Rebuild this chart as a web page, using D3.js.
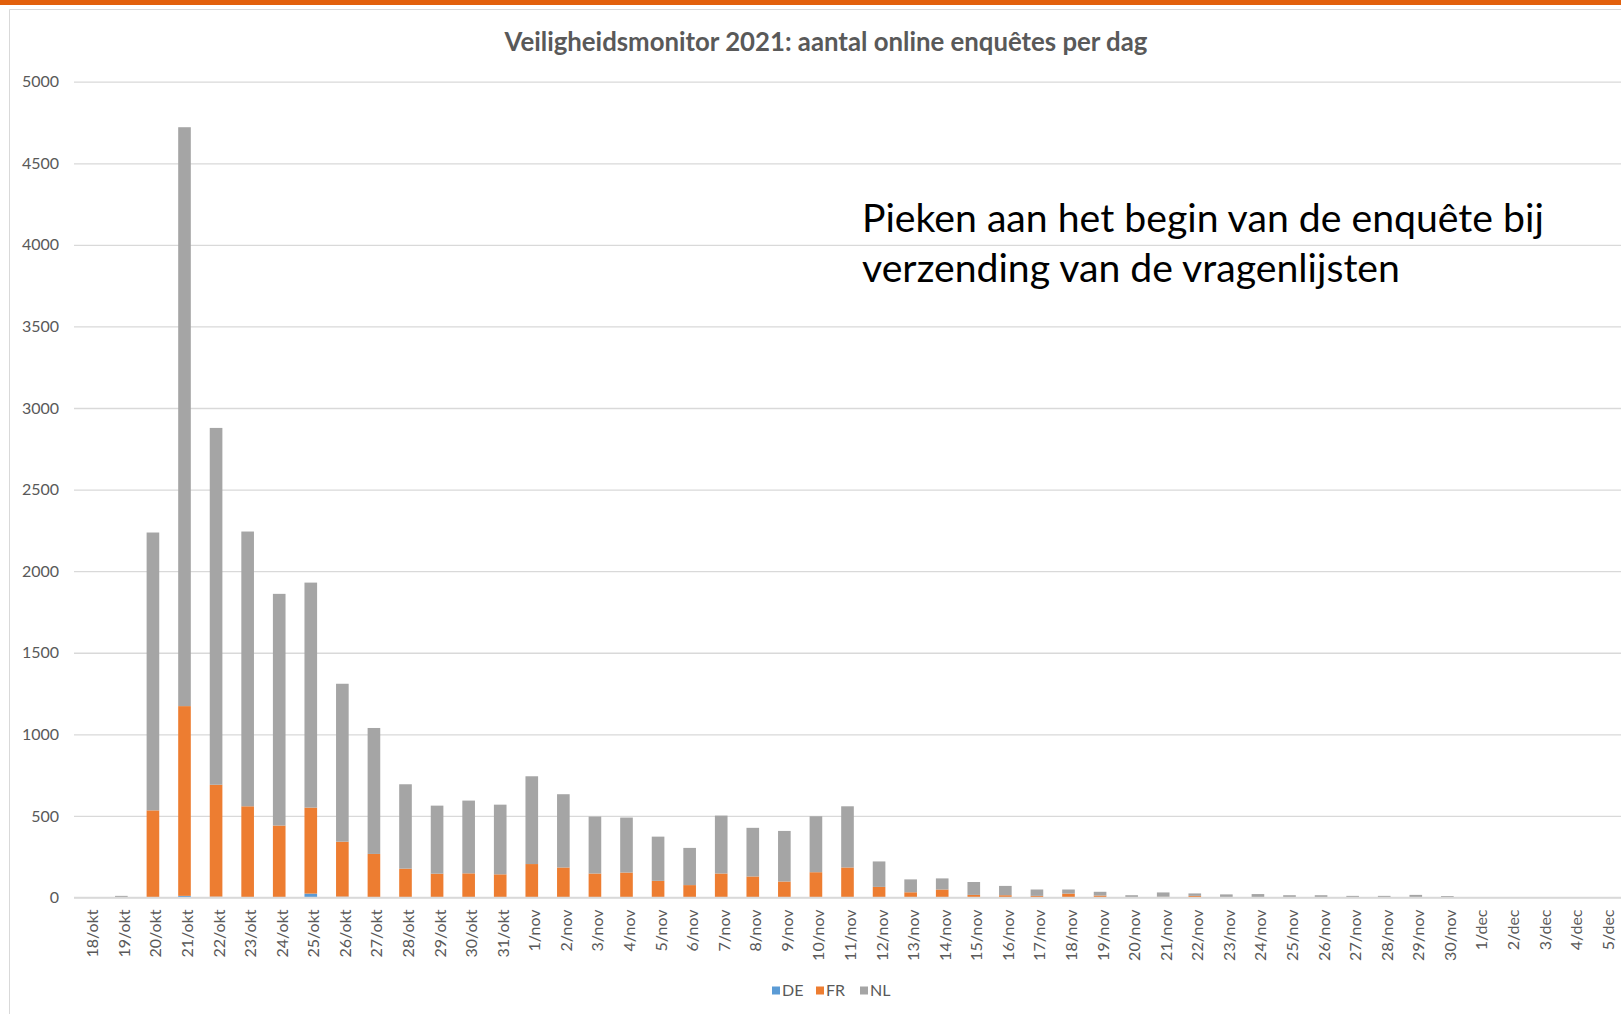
<!DOCTYPE html>
<html>
<head>
<meta charset="utf-8">
<script src="https://cdn.jsdelivr.net/npm/d3@7"></script>
<style>
  html, body { margin: 0; padding: 0; background: #ffffff; }
  svg { display: block; }
</style>
</head>
<body>
<svg id="chart" width="1621" height="1014"></svg>
<script>
// ---------- data ----------
const categories = [
  "18/okt","19/okt","20/okt","21/okt","22/okt","23/okt","24/okt","25/okt","26/okt","27/okt","28/okt","29/okt","30/okt","31/okt",
  "1/nov","2/nov","3/nov","4/nov","5/nov","6/nov","7/nov","8/nov","9/nov","10/nov","11/nov","12/nov","13/nov","14/nov","15/nov",
  "16/nov","17/nov","18/nov","19/nov","20/nov","21/nov","22/nov","23/nov","24/nov","25/nov","26/nov","27/nov","28/nov","29/nov","30/nov",
  "1/dec","2/dec","3/dec","4/dec","5/dec"
];
const deValues = [0,0,3,10,5,2,2,24,5,2,1,1,1,1,
  1,0,0,0,0,0,0,0,0,0,0,0,0,0,0,
  0,0,0,0,0,0,0,0,0,0,0,0,0,0,0,
  0,0,0,0,0];
const frValues = [0,0,531,1163,686,557,439,527,337,265,176,145,147,141,
  204,184,147,153,102,76,147,129,98,155,184,65,32,49,16,
  14,10,24,12,2,4,10,2,3,2,2,1,1,2,1,
  0,0,0,0,0];
const nlValues = [0,10,1703,3548,2187,1684,1420,1379,968,772,517,417,446,427,
  538,449,349,337,271,228,355,298,310,343,375,156,79,68,79,
  57,39,25,23,12,27,15,17,18,12,12,9,9,14,8,
  0,0,0,0,0];
const seriesNames = ["DE","FR","NL"];
const seriesColors = ["#5B9BD5","#ED7D31","#A5A5A5"];
const yTicks = [0,500,1000,1500,2000,2500,3000,3500,4000,4500,5000];
const titleText = "Veiligheidsmonitor 2021: aantal online enquêtes per dag";
const noteLines = ["Pieken aan het begin van de enquête bij", "verzending van de vragenlijsten"];

// ---------- layout ----------
const W = 1621, H = 1014;
const plot = { left: 74, right: 1621, top: 81.7, bottom: 897.5 };
const font = "Lato, 'Open Sans', sans-serif";
const textGray = "#595959";
const gridGray = "#D9D9D9";

const svg = d3.select("#chart");

// top orange band
svg.append("rect").attr("x", 0).attr("y", 0).attr("width", W).attr("height", 5).attr("fill", "#E2600C");

// chart area border (continues off the right/bottom edges)
svg.append("path")
  .attr("d", `M9.5,${H + 5} V9.5 H${W + 5}`)
  .attr("fill", "none").attr("stroke", gridGray).attr("stroke-width", 1);

// table for stacking
const table = categories.map((c, i) => ({ cat: c, DE: deValues[i], FR: frValues[i], NL: nlValues[i] }));
const stacked = d3.stack().keys(seriesNames)(table);

const x = d3.scaleBand().domain(categories).range([plot.left, plot.right]).paddingInner(0.6).paddingOuter(0.3);
const y = d3.scaleLinear().domain([0, 5000]).range([plot.bottom, plot.top]);
const color = d3.scaleOrdinal().domain(seriesNames).range(seriesColors);

// gridlines + y labels via axis
const yAxis = d3.axisLeft(y).tickValues(yTicks).tickSize(-(plot.right - plot.left)).tickPadding(15).tickFormat(d3.format("d"));
const gy = svg.append("g").attr("transform", `translate(${plot.left},0)`).call(yAxis);
gy.select(".domain").remove();
gy.selectAll(".tick line").attr("stroke", gridGray).attr("stroke-width", 1.3);
gy.selectAll(".tick text")
  .attr("fill", textGray).style("font-family", font).style("font-size", "16px");

// bars
svg.append("g").selectAll("g").data(stacked).join("g")
  .attr("fill", d => color(d.key))
  .selectAll("rect").data(d => d).join("rect")
  .attr("x", d => x(d.data.cat))
  .attr("width", x.bandwidth())
  .attr("y", d => y(d[1]))
  .attr("height", d => Math.max(0, y(d[0]) - y(d[1])));

// x axis
const xAxis = d3.axisBottom(x).tickSize(0).tickPadding(0);
const gx = svg.append("g").attr("transform", `translate(0,${plot.bottom})`).call(xAxis);
gx.select(".domain").attr("stroke", gridGray).attr("stroke-width", 1.3)
  .attr("d", `M${plot.left},0H${plot.right}`);
gx.selectAll(".tick text")
  .attr("fill", textGray).style("font-family", font).style("font-size", "16px")
  .attr("text-anchor", "end")
  .attr("dominant-baseline", "central")
  .attr("transform", "translate(2,12) rotate(-90)")
  .attr("x", 0).attr("y", 0).attr("dy", null);

// title
const title = svg.append("text")
  .attr("x", 826).attr("y", 51)
  .attr("text-anchor", "middle")
  .attr("fill", textGray)
  .style("font-family", font).style("font-weight", "bold").style("font-size", "24px")
  .text(titleText);
{
  const w = title.node().getComputedTextLength();
  title.style("font-size", (24 * 643 / w).toFixed(2) + "px");
}

// annotation
const note = svg.append("g").style("font-family", font).attr("fill", "#000");
const noteBaselines = [231.5, 281.5];
note.selectAll("text").data(noteLines).join("text")
  .attr("x", 862).attr("y", (d, i) => noteBaselines[i])
  .style("font-size", "36px")
  .text(d => d);
{
  const first = note.select("text").node();
  const w = first.getComputedTextLength();
  const fs = (36 * 682 / w).toFixed(2);
  note.selectAll("text").style("font-size", fs + "px");
}

// legend
const legendX = [772, 816, 860];
const lg = svg.append("g");
const items = lg.selectAll("g").data(seriesNames).join("g")
  .attr("transform", (d, i) => `translate(${legendX[i]},0)`);
items.append("rect").attr("x", 0).attr("y", 986.5).attr("width", 8).attr("height", 8).attr("fill", d => color(d));
items.append("text").attr("x", 10).attr("y", 996)
  .attr("fill", textGray).style("font-family", font).style("font-size", "16px")
  .text(d => d);
</script>
</body>
</html>
